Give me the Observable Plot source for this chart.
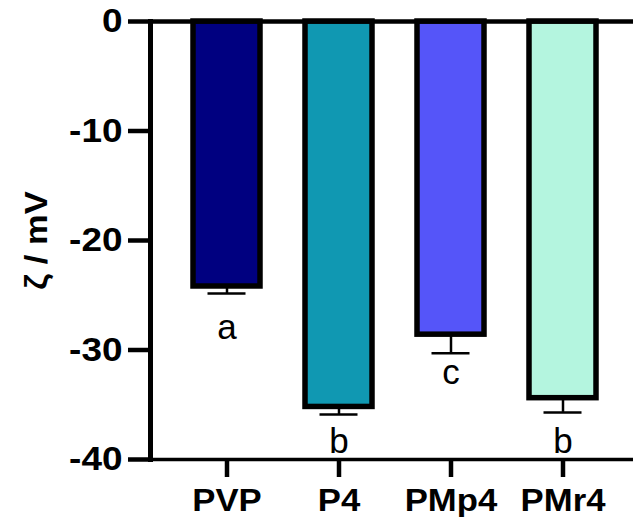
<!DOCTYPE html>
<html>
<head>
<meta charset="utf-8">
<script src="https://cdn.jsdelivr.net/npm/d3@7"></script>
<script src="https://cdn.jsdelivr.net/npm/@observablehq/plot@0.6"></script>
<style>
  html, body { margin: 0; padding: 0; background: #fff; }
  #chart { width: 633px; height: 517px; }
</style>
</head>
<body>
<div id="chart"></div>
<script>
const categories = ["PVP", "P4", "PMp4", "PMr4"];
const means = [-24.2, -35.2, -28.6, -34.4];
const errors = [0.65, 0.7, 1.7, 1.3];
const letters = ["a", "b", "c", "b"];
const letterY = [-28.0, -38.4, -32.1, -38.4];
const colors = ["#000080", "#1098b2", "#5555f9", "#b4f5df"];
const yTicks = [0, -10, -20, -30, -40];
const yLabel = "ζ / mV";

const data = categories.map((c, i) => ({
  cat: c, mean: means[i], low: means[i] - errors[i],
  letter: letters[i], ly: letterY[i], color: colors[i]
}));

const font = "'Liberation Sans', Arial, Helvetica, sans-serif";

const svg = Plot.plot({
  width: 633,
  height: 517,
  marginLeft: 150,
  marginRight: 0,
  marginTop: 21,
  marginBottom: 58,
  style: { fontFamily: font, background: "#fff", color: "#000" },
  x: { domain: categories, paddingInner: 0.404, paddingOuter: 0.349, align: 0.54, axis: null },
  y: { domain: [-40, 0], axis: null },
  color: { type: "identity" },
  marks: [
    Plot.barY(data, { x: "cat", y1: 0, y2: "mean", fill: "color", stroke: "#000", strokeWidth: 5.5 }),
    Plot.ruleX(data, { x: "cat", y1: "mean", y2: "low", stroke: "#000", strokeWidth: 2.5 }),
    Plot.tickY(data, { x: "cat", y: "low", stroke: "#000", strokeWidth: 2.5, insetLeft: 14.5, insetRight: 14.5 }),
    Plot.text(data, { x: "cat", y: "ly", text: "letter", fontSize: 35, lineAnchor: "middle", fill: "#000" }),
    Plot.ruleY([0], { stroke: "#000", strokeWidth: 4.5 }),
    Plot.ruleY([-40], { stroke: "#000", strokeWidth: 3.5 }),
    Plot.frame({ anchor: "left", stroke: "#000", strokeWidth: 5 }),
    Plot.axisY(yTicks, { anchor: "left", tickSize: 22, tickPadding: 6, strokeWidth: 4.5, fontSize: 33, fontWeight: "bold", label: null, tickFormat: (d) => String(d) }),
    Plot.axisX({ anchor: "bottom", tickSize: 18, tickPadding: 11, strokeWidth: 4.5, fontSize: 31, fontWeight: "bold", label: null }),
    Plot.text([yLabel], { frameAnchor: "left", rotate: -90, dx: -114, fontSize: 32, fontWeight: "bold", lineAnchor: "middle", textAnchor: "middle", fill: "#000" })
  ]
});

// horizontal stretch of axis lettering to match the reference's wide glyphs
d3.select(svg).selectAll("g[aria-label='x-axis tick label'] text, g[aria-label='y-axis tick label'] text").each(function () {
  const t = this.getAttribute("transform") || "";
  this.setAttribute("transform", t + " scale(1.12,1)");
});
d3.select(svg).selectAll("g[aria-label='text'] text").filter(function () { return this.textContent === yLabel; }).each(function () {
  const t = this.getAttribute("transform") || "";
  this.setAttribute("transform", t + " scale(1.08,1)");
});

document.getElementById("chart").appendChild(svg);
</script>
</body>
</html>
